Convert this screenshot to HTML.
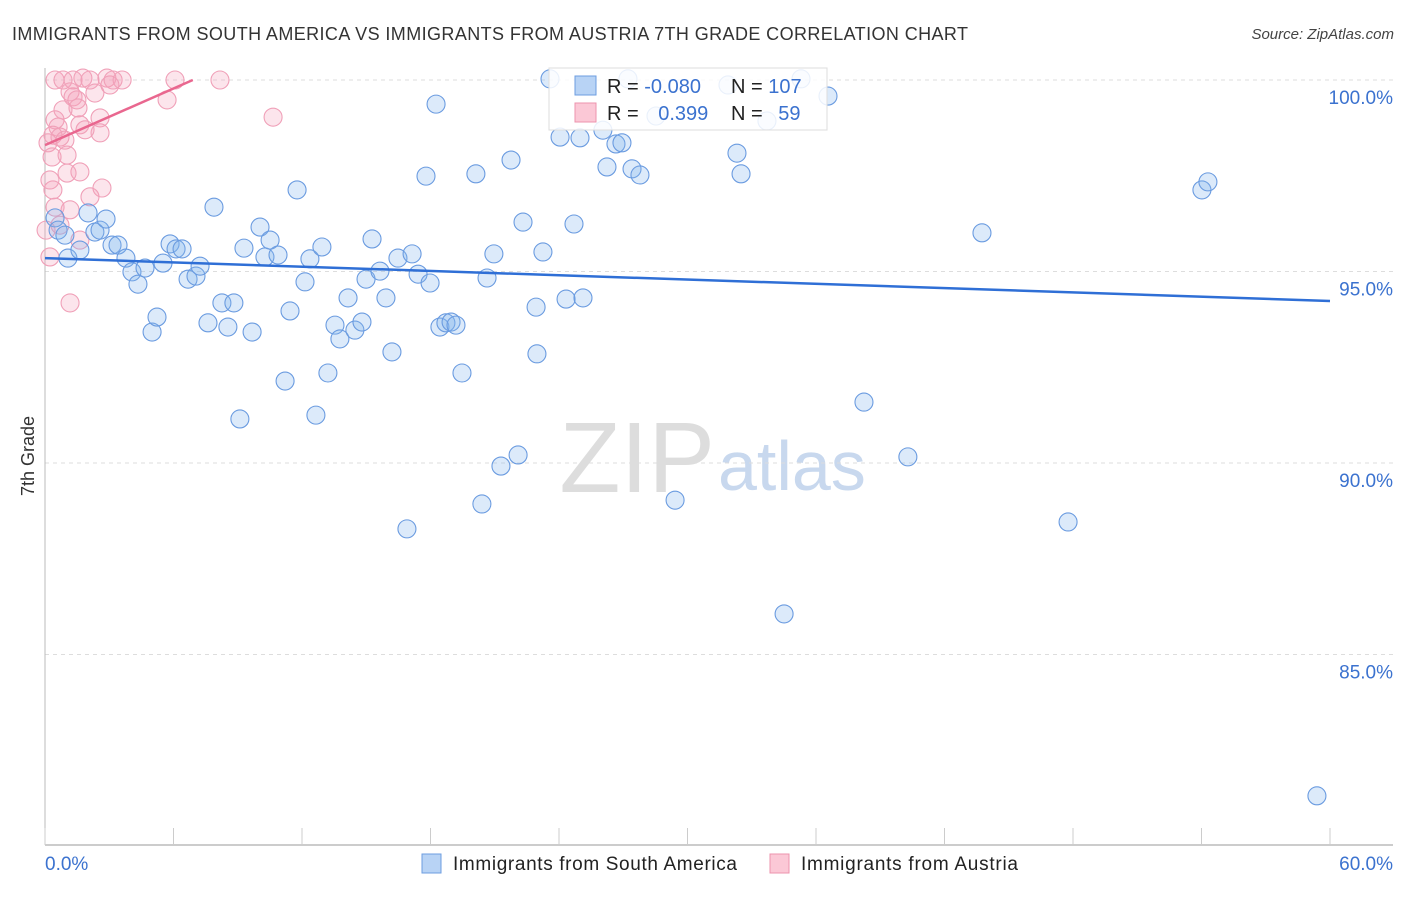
<!DOCTYPE html>
<html><head><meta charset="utf-8"><style>
body{margin:0;background:#fff;font-family:"Liberation Sans",sans-serif;}
svg text{font-family:"Liberation Sans",sans-serif;}
</style></head><body>
<svg id="chart" width="1406" height="892">
<text x="12" y="40" font-size="18" fill="#333" textLength="956">IMMIGRANTS FROM SOUTH AMERICA VS IMMIGRANTS FROM AUSTRIA 7TH GRADE CORRELATION CHART</text>
<text x="1394" y="39" font-size="15" fill="#444" font-style="italic" text-anchor="end">Source: ZipAtlas.com</text>
<text x="34" y="456" font-size="18" fill="#333" transform="rotate(-90 34 456)" text-anchor="middle">7th Grade</text>
<text x="715" y="492" font-size="100" fill="#ddd" text-anchor="end" font-family="Liberation Serif">ZIP</text>
<text x="718" y="490" font-size="70" fill="#c8d8ee">atlas</text>
<g id="grid"></g><g id="pts"></g><g id="trends"></g>
<g>
<rect x="549" y="68" width="278" height="62" fill="rgba(255,255,255,0.85)" stroke="#ddd"/>
<rect x="575" y="76" width="21" height="19" fill="#b8d3f5" stroke="#6d9ee0"/>
<rect x="575" y="103" width="21" height="19" fill="#fbc8d6" stroke="#ec93ad"/>
<text x="607" y="93" font-size="20" fill="#222">R = <tspan fill="#3b72cf">-0.080</tspan></text>
<text x="731" y="93" font-size="20" fill="#222">N = <tspan fill="#3b72cf">107</tspan></text>
<text x="607" y="120" font-size="20" fill="#222">R = <tspan fill="#3b72cf" dx="14">0.399</tspan></text>
<text x="731" y="120" font-size="20" fill="#222">N = <tspan fill="#3b72cf" dx="10">59</tspan></text>
</g>
<text x="45" y="870" font-size="19" fill="#3b72cf">0.0%</text>
<text x="1393" y="870" font-size="19" fill="#3b72cf" text-anchor="end">60.0%</text>
<rect x="422" y="854" width="19" height="19" fill="#b8d3f5" stroke="#6d9ee0"/>
<text x="453" y="870" font-size="19" fill="#222" textLength="284">Immigrants from South America</text>
<rect x="770" y="854" width="19" height="19" fill="#fbc8d6" stroke="#ec93ad"/>
<text x="801" y="870" font-size="19" fill="#222" textLength="217">Immigrants from Austria</text>
</svg>
<script>
const yTicks=[100,95,90,85];
const yTickLabels=["100.0%","95.0%","90.0%","85.0%"];
const blueX=[0.47,0.61,0.93,1.07,1.63,2.01,2.33,2.57,2.85,3.13,3.41,3.78,4.06,4.34,4.67,5.00,5.23,5.51,5.84,6.12,6.40,6.68,7.05,7.24,7.61,7.89,8.26,8.54,8.82,9.29,9.67,9.10,10.04,10.27,10.51,10.88,11.21,11.44,11.77,12.14,12.37,12.65,12.93,13.21,13.54,13.77,14.15,14.47,14.80,14.99,15.27,15.64,15.92,16.20,16.48,16.90,17.14,17.42,17.79,17.98,18.26,18.44,18.72,18.96,19.19,19.47,20.12,20.40,20.64,20.96,21.29,21.76,22.09,22.32,22.93,22.97,23.25,23.58,24.05,24.33,24.70,24.98,25.12,26.05,26.24,26.66,26.94,27.22,27.41,27.78,28.53,29.42,31.89,32.31,32.50,33.71,34.51,35.30,36.56,38.24,40.29,43.75,47.77,54.02,54.30,59.39];
const blueY=[96.40,96.08,95.95,95.35,95.56,96.53,96.03,96.08,96.37,95.69,95.69,95.35,94.99,94.67,95.09,93.42,93.81,95.22,95.72,95.59,95.59,94.80,94.88,95.14,93.66,96.68,94.18,93.55,94.18,95.61,93.42,91.15,96.16,95.38,95.82,95.43,92.14,93.97,97.13,94.73,95.33,91.25,95.64,92.35,93.60,93.24,94.31,93.47,93.68,94.80,95.85,95.01,94.31,92.90,95.35,88.28,95.46,94.93,97.49,94.70,99.37,93.55,93.66,93.68,93.60,92.35,97.55,88.93,94.83,95.46,89.92,97.91,90.21,96.29,94.07,92.85,95.51,100.03,98.51,94.28,96.24,98.49,94.31,98.69,97.73,98.33,98.36,100.03,97.68,97.52,99.06,89.03,99.87,98.09,97.55,98.93,86.06,100.03,99.58,91.59,90.16,96.01,88.46,97.13,97.34,81.31];
const pinkX=[0.47,0.84,1.31,1.77,2.10,2.89,3.18,3.60,2.33,1.17,1.31,1.49,1.54,0.84,0.47,0.61,0.37,0.70,2.57,1.63,2.57,0.14,0.33,1.03,1.03,1.63,0.23,0.37,2.66,2.10,1.17,0.47,1.63,0.23,1.17,6.07,8.17,5.70,10.65,0.05,0.70,1.87,3.03,0.93];
const pinkY=[100,100,100,100.05,100,100.05,100,100,99.66,99.69,99.56,99.48,99.27,99.22,98.96,98.77,98.56,98.51,99.01,98.83,98.62,98.36,97.99,98.04,97.57,97.60,97.39,97.13,97.18,96.95,96.61,96.68,95.82,95.38,94.18,100,100,99.48,99.03,96.08,96.21,98.7,99.87,98.43];
const blueTrend=[95.35,94.23];
const pinkTrend=[98.3,100];
const ns="http://www.w3.org/2000/svg";
const X=v=>45+v*(1285/60), Y=v=>80+(100-v)*38.3;
function mk(t,a,p){const e=document.createElementNS(ns,t);for(const k in a)e.setAttribute(k,a[k]);p.appendChild(e);return e;}
const grid=document.getElementById('grid');
yTicks.forEach((t,i)=>{
 const l=mk('line',{x1:45,x2:1393,y1:Y(t),y2:Y(t),stroke:'#ddd','stroke-dasharray':'4,4'},grid);
 
 
 const tx=mk('text',{x:1393,y:Y(t)+24,'font-size':19,fill:'#3b72cf','text-anchor':'end'},grid);
 tx.textContent=yTickLabels[i];
 
 
});
const ax=mk('line',{x1:45,x2:45,y1:68,y2:845,stroke:'#bbb'},grid);


const bx=mk('line',{x1:45,x2:1393,y1:845,y2:845,stroke:'#bbb','stroke-width':1.5},grid);


for(let i=0;i<=10;i++){const t=mk('line',{x1:X(i*6),x2:X(i*6),y1:828,y2:845,stroke:'#ccc'},grid);
 
 }
const pts=document.getElementById('pts');
pinkX.forEach((x,i)=>{const c=mk('circle',{cx:X(x),cy:Y(pinkY[i]),r:9,fill:'rgba(245,160,188,0.28)',stroke:'#f0a0b8','stroke-width':1.1},pts);
 
 });
blueX.forEach((x,i)=>{const c=mk('circle',{cx:X(x),cy:Y(blueY[i]),r:9,fill:'rgba(130,178,238,0.28)',stroke:'#6a9be0','stroke-width':1.1},pts);
 
 });
const tr=document.getElementById('trends');
const b=mk('line',{x1:X(0),y1:Y(blueTrend[0]),x2:X(60),y2:Y(blueTrend[1]),stroke:'#2f6fd6','stroke-width':2.5},tr);


const p=mk('line',{x1:X(0),y1:Y(pinkTrend[0]),x2:X(6.9),y2:Y(pinkTrend[1]),stroke:'#e9678f','stroke-width':2.5},tr);


</script>
</body></html>
